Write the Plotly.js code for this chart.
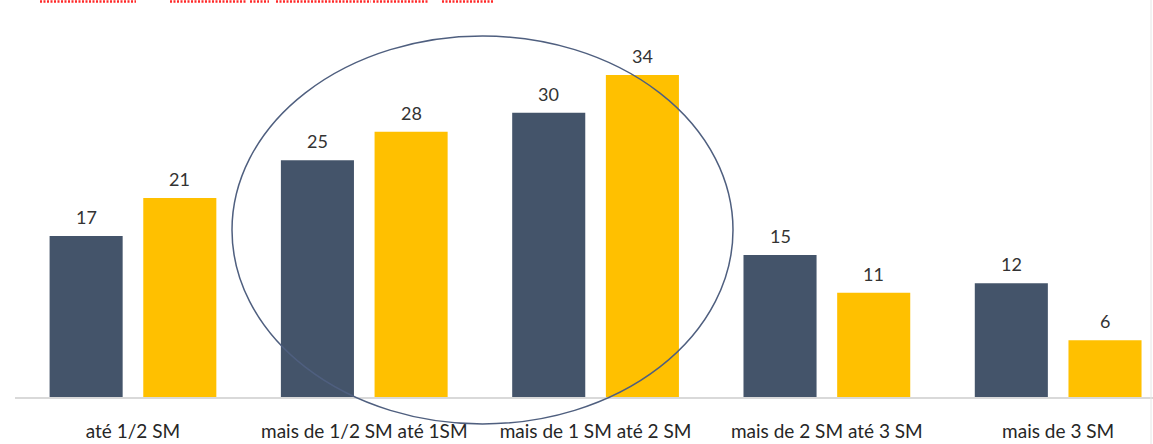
<!DOCTYPE html>
<html>
<head>
<meta charset="utf-8">
<script src="https://cdn.plot.ly/plotly-3.0.1.min.js"></script>
<style>html,body{margin:0;padding:0;background:#fff;}#chart{width:1153px;height:444px;}</style>
</head>
<body>
<div id="chart"></div>
<script>
const categories = ["até 1/2 SM", "mais de 1/2 SM até 1SM", "mais de 1 SM até 2 SM", "mais de 2 SM até 3 SM", "mais de 3 SM"];
const seriesA = [17, 25, 30, 15, 12];
const seriesB = [21, 28, 34, 11, 6];

const darkColor = "#44546A";
const yellowColor = "#FFC000";
const labelFont = {family: "Lato, 'Liberation Sans Narrow', sans-serif", size: 18, color: "#333333"};

const traces = [
  {type: "bar", x: categories, y: seriesA, marker: {color: darkColor}, hoverinfo: "none", name: "A"},
  {type: "bar", x: categories, y: seriesB, marker: {color: yellowColor}, hoverinfo: "none", name: "B"}
];

const annotations = [];
categories.forEach((c, i) => {
  annotations.push({x: c, y: seriesA[i], xref: "x", yref: "y", text: String(seriesA[i]), showarrow: false,
    xshift: -46.75, yshift: 19, font: labelFont});
  annotations.push({x: c, y: seriesB[i], xref: "x", yref: "y", text: String(seriesB[i]), showarrow: false,
    xshift: 46.75, yshift: 19, font: labelFont});
});

// pixel helpers for decorative shapes (paper coords)
const L = 15, W = 1138, B = 397, H = 377;
const px = v => (v - L) / W;
const py = v => (B - v) / H;

const shapes = [
  {type: "circle", xref: "paper", yref: "paper", x0: px(232), x1: px(733), y0: py(424), y1: py(36),
   line: {color: "#4f5f7f", width: 1.5}},
  {type: "line", xref: "paper", yref: "paper", x0: px(1151), x1: px(1151), y0: py(0), y1: py(444),
   line: {color: "#e6e6e6", width: 1}}
];
const squiggles = [[40,136],[170,246],[250,269],[276,371],[373,428],[442,493]];
squiggles.forEach(s => shapes.push({type: "line", xref: "paper", yref: "paper", x0: px(s[0]), x1: px(s[1]),
  y0: py(1.5), y1: py(1.5), line: {color: "#ff2a2a", width: 2.5, dash: "2px,1.5px"}}));

const layout = {
  width: 1153, height: 444,
  margin: {l: L, r: 0, t: 20, b: 47},
  paper_bgcolor: "#ffffff", plot_bgcolor: "#ffffff",
  showlegend: false,
  barmode: "group", bargap: 0.19, bargroupgap: 0.22,
  xaxis: {type: "category", range: [-0.51, 4.41], showgrid: false, zeroline: false,
    showline: true, linecolor: "#d9d9d9", linewidth: 1.5, ticks: "",
    ticklabelstandoff: 17,
    tickfont: {family: "Lato, 'Liberation Sans Narrow', sans-serif", size: 19, color: "#262626"}},
  yaxis: {range: [0, 39.8], visible: false, showgrid: false, zeroline: false},
  annotations: annotations,
  shapes: shapes
};

Plotly.newPlot("chart", traces, layout, {displayModeBar: false, staticPlot: true});
</script>
</body>
</html>
